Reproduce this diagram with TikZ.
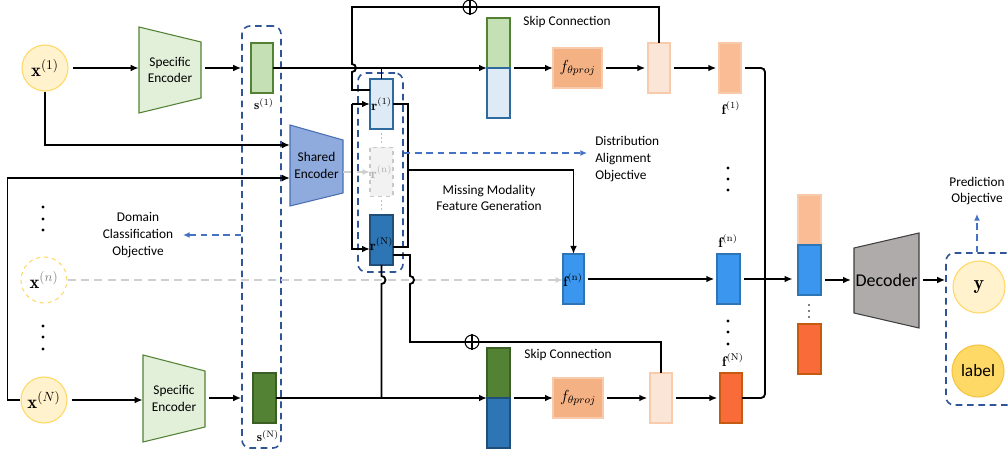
\documentclass[tikz,border=0pt]{standalone}
\usepackage{fontspec}
\newfontfamily\carl{Carlito}
\usetikzlibrary{arrows.meta,calc}
\definecolor{yfill}{HTML}{FFF2CC}
\definecolor{yline}{HTML}{FFD966}
\definecolor{gold}{HTML}{FFD966}
\definecolor{goldline}{HTML}{F4C542}
\definecolor{gfill}{HTML}{E2F0D9}
\definecolor{gline}{HTML}{548235}
\definecolor{glight}{HTML}{C5E0B4}
\definecolor{gdark}{HTML}{548235}
\definecolor{gdarkline}{HTML}{3B5E25}
\definecolor{sfill}{HTML}{8FAADC}
\definecolor{sline}{HTML}{4A6FB5}
\definecolor{blight}{HTML}{DEEBF7}
\definecolor{blightline}{HTML}{2E6A9E}
\definecolor{bdark}{HTML}{2E75B6}
\definecolor{bdarkline}{HTML}{1F4E79}
\definecolor{grayfill}{HTML}{F2F2F2}
\definecolor{grayline}{HTML}{C8C8C8}
\definecolor{proj}{HTML}{F4B183}
\definecolor{projline}{HTML}{F8CBAD}
\definecolor{faded}{HTML}{FBE5D6}
\definecolor{fadedline}{HTML}{F8CBAD}
\definecolor{fone}{HTML}{F9BC95}
\definecolor{foneline}{HTML}{F8CBAD}
\definecolor{fnc}{HTML}{3A96EE}
\definecolor{fnline}{HTML}{2E75B6}
\definecolor{fNc}{HTML}{F96C3A}
\definecolor{fNline}{HTML}{C55A11}
\definecolor{dec}{HTML}{AFABAB}
\definecolor{grp}{HTML}{2F5597}
\definecolor{obj}{HTML}{4472C4}
\definecolor{ghost}{HTML}{CFCFCF}
\tikzset{
  sz/.style args={#1 by #2}{minimum width=#1*0.75pt, minimum height=#2*0.75pt},
  blk/.style={draw, line width=0.8pt, inner sep=0pt, outer sep=0pt},
  arr/.style={line width=1.4pt, -{Latex[length=6pt,width=5pt]}},
  ln/.style={line width=1.4pt},
  grpbox/.style={draw=grp, line width=1.2pt, dash pattern=on 5pt off 3.5pt, rounded corners=6pt, inner sep=0pt},
  objarr/.style={draw=obj, line width=1pt, dash pattern=on 5pt off 3.5pt, -{Latex[length=5pt,width=4.5pt]}},
  ghostarr/.style={draw=ghost, line width=1pt, dash pattern=on 6pt off 4pt, -{Latex[length=5.5pt,width=4.5pt]}},
  txt/.style={font=\carl\fontsize{10}{12.6}\selectfont, align=center, inner sep=0pt},
  circ/.style={circle, minimum size=46*0.75pt, inner sep=0pt, line width=0.8pt},
  opl/.style={circle, draw, fill=white, line width=0.8pt, minimum size=14*0.75pt, inner sep=0pt},
  mlab/.style={inner sep=0pt, font=\fontsize{10}{12}\selectfont},
}
\begin{document}
\begin{tikzpicture}[x=0.75pt,y=-0.75pt]
\useasboundingbox (0,0) rectangle (1008,452);
\fill[white] (0,0) rectangle (1008,452);

% ---------- inputs ----------
\node[circ, draw=yline, fill=yfill] (x1) at (45,68) {\fontsize{14}{16}\selectfont$\mathbf{x}^{(1)}$};
\node[circ, draw=yline, dashed, fill=white] (xn) at (44,280) {\fontsize{14}{16}\selectfont$\mathbf{x}^{\textcolor{gray}{(n)}}$};
\node[circ, draw=yline, fill=yfill] (xN) at (44,400) {\fontsize{14}{16}\selectfont$\mathbf{x}^{(N)}$};
\foreach \y in {207,219,230,326,337,349} \fill (43,\y) circle[radius=1.6];

% ---------- specific encoders ----------
\draw[fill=gfill, draw=gline, line width=0.8pt] (139,27) -- (201,42) -- (201,98) -- (139,113) -- cycle;
\node[txt, sz=62 by 86] (se1) at (170,70) {Specific\\Encoder};
\draw[fill=gfill, draw=gline, line width=0.8pt] (143,355) -- (205,371) -- (205,427) -- (143,442) -- cycle;
\node[txt, sz=62 by 87] (seN) at (174,398.5) {Specific\\Encoder};

% ---------- shared encoder ----------
\draw[fill=sfill, draw=sline, line width=0.8pt] (290,125) -- (343,140) -- (343,193) -- (290,206) -- cycle;
\node[txt, sz=53 by 81] (sh) at (316.5,165.5) {Shared\\Encoder};
\coordinate (shin1) at (290,145);
\coordinate (shin2) at (290,178);

% ---------- s group ----------
\node[grpbox, sz=39 by 422] (sgrp) at (261.5,237) {};
\node[blk, draw=gline, fill=glight, sz=22 by 50] (s1) at (262,68) {};
\node[mlab] (s1l) at (264,104) {$\mathbf{s}^{(1)}$};
\node[blk, draw=gdarkline, fill=gdark, sz=23 by 50] (sN) at (264.5,398) {};
\node[mlab] (sNl) at (268,436) {$\mathbf{s}^{(\mathrm{N})}$};

% ---------- r group ----------
\node[grpbox, sz=45 by 199] (rgrp) at (380.5,172.5) {};
\node[blk, draw=blightline, fill=blight, sz=23 by 50] (r1) at (381.5,104) {};
\node[blk, draw=grayline, dashed, fill=grayfill, sz=23 by 49] (rn) at (381.5,172) {};
\node[blk, draw=bdarkline, fill=bdark, sz=23 by 50] (rN) at (381.5,240) {};
\node[mlab, font=\fontsize{10.5}{12}\selectfont] (r1l) at (381.5,104) {$\mathbf{r}^{(1)}$};
\node[mlab, font=\fontsize{10.5}{12}\selectfont, text=gray!60] (rnl) at (381.5,172) {$\mathbf{r}^{(\mathrm{n})}$};
\node[mlab, font=\fontsize{10.5}{12}\selectfont] (rNl) at (381.5,244) {$\mathbf{r}^{(\mathrm{N})}$};
\foreach \y in {134,138,142,201,205,209} \fill[gray] (381.5,\y) circle[radius=0.7];

% ---------- concat boxes ----------
\node[blk, draw=gline, fill=glight, sz=23 by 50] (c1a) at (498.5,43) {};
\node[blk, draw=blightline, fill=blight, sz=23 by 50] (c1b) at (498.5,93) {};
\node[blk, draw=gdarkline, fill=gdark, sz=23 by 50] (c2a) at (498.5,373) {};
\node[blk, draw=bdarkline, fill=bdark, sz=23 by 50] (c2b) at (498.5,423) {};

% ---------- projections ----------
\node[blk, draw=projline, fill=proj, sz=49 by 40] (fp1) at (577.5,68) {\fontsize{12}{14}\selectfont$f_{\theta proj}$};
\node[blk, draw=projline, fill=proj, sz=50 by 40] (fp2) at (578,398) {\fontsize{12}{14}\selectfont$f_{\theta proj}$};
\node[blk, draw=fadedline, fill=faded, sz=22 by 50] (fd1) at (659,68) {};
\node[blk, draw=fadedline, fill=faded, sz=22 by 50] (fd2) at (661,398) {};
\node[txt] (skip1) at (567,22) {Skip Connection};
\node[txt] (skip2) at (568,355) {Skip Connection};
\node[opl] (op1) at (470,7) {};
\draw[line width=0.8pt] (op1.north) -- (op1.south) (op1.west) -- (op1.east);
\node[opl] (op2) at (472,342) {};
\draw[line width=0.8pt] (op2.north) -- (op2.south) (op2.west) -- (op2.east);

% ---------- f features ----------
\node[blk, draw=fnline, fill=fnc, sz=21 by 50] (fn) at (573.5,279) {};
\node[mlab, font=\fontsize{10.5}{12}\selectfont] (fnl) at (573,280) {$\mathbf{f}^{(\mathrm{n})}$};
\node[blk, draw=foneline, fill=fone, sz=22 by 50] (f1) at (730,68) {};
\node[mlab, font=\fontsize{10.5}{12}\selectfont] (f1l) at (731,108) {$\mathbf{f}^{(1)}$};
\node[blk, draw=fnline, fill=fnc, sz=23 by 50] (fn2) at (728.5,279) {};
\node[mlab, font=\fontsize{10.5}{12}\selectfont] (fn2l) at (728,241) {$\mathbf{f}^{(\mathrm{n})}$};
\node[blk, draw=fNline, fill=fNc, sz=22 by 50] (fN) at (731,398) {};
\node[mlab, font=\fontsize{10.5}{12}\selectfont] (fNl) at (733,360) {$\mathbf{f}^{(\mathrm{N})}$};
\foreach \y in {168,179,190,321,332,344} \fill (728,\y) circle[radius=1.6];

% concatenated
\node[blk, draw=foneline, fill=fone, sz=23 by 50] (cca) at (809.5,220) {};
\node[blk, draw=fnline, fill=fnc, sz=23 by 50] (ccb) at (809.5,270) {};
\node[blk, draw=fNline, fill=fNc, sz=23 by 50] (ccc) at (809.5,349) {};
\foreach \y in {305,311,317} \fill (809,\y) circle[radius=0.8];

% ---------- decoder & outputs ----------
\draw[fill=dec, draw=black!75, line width=0.8pt] (854,248) -- (919,233) -- (919,328) -- (854,313) -- cycle;
\node[txt, font=\carl\fontsize{13.5}{15}\selectfont, sz=65 by 96] (dec) at (886.5,280) {Decoder};
\node[grpbox, sz=80 by 152] (ybox) at (986,329) {};
\node[circ, minimum size=52*0.75pt, draw=yline, fill=yfill] (yc) at (979,287) {\fontsize{15}{17}\selectfont$\mathbf{y}$};
\node[circ, minimum size=52*0.75pt, draw=goldline, fill=gold] (lab) at (978,371) {\carl\fontsize{13}{15}\selectfont label};
\node[txt] (pred) at (977,191) {Prediction\\Objective};
\coordinate (predtip) at (977,214);

% ---------- objective texts ----------
\node[txt, anchor=west, align=left] (dist) at (595,159) {Distribution\\Alignment\\Objective};
\node[txt] (dom) at (138,235) {Domain\\Classification\\Objective};
\node[txt] (miss) at (489,198) {Missing Modality\\Feature Generation};
\coordinate (distip) at (587,153);
\coordinate (domtip) at (183,235);

% ---------- helper coordinates ----------
\coordinate (bx) at (352,0);
\coordinate (bxr) at (408,0);
\coordinate (bxs) at (410,0);
\coordinate (bxf) at (765,0);
\coordinate (r1tap) at (370,90);
\coordinate (rNin) at (370,249);
\coordinate (rNo1) at (393,247);
\coordinate (rNo2) at (393,255);

% ---------- connectors ----------
\draw[ghostarr] (xn.east) -- (xn.east -| fn.west);
\draw[ghostarr] (rn.west -| sh.east) -- (rn.west);

\draw[arr, shorten <=3pt] (x1.east) -- (x1.east -| se1.west);
\draw[arr, shorten <=3pt] (xN.east) -- (xN.east -| seN.west);
\draw[arr, shorten <=3pt] (se1.east |- s1.west) -- (s1.west -| sgrp.west);
\draw[arr, shorten <=3pt] (seN.east |- sN.west) -- (sN.west -| sgrp.west);
\draw[arr] (x1.south) |- (shin1);
\draw[arr] (xN.west) -- ++(-13,0) |- (shin2);

\draw[arr] (s1.east) -- (s1.east -| c1a.west);
\draw[ln] (r1.north) -- (r1.north |- s1.east);
\draw[ln] (r1tap) -- (r1tap -| bx) -- (352,72) arc[start angle=90,end angle=-90,radius=4] -- (352,7) -- (op1.west);
\draw[ln] (op1.east) -- (659,7) -- (fd1.north);

\draw[arr] (r1.west -| bx) -- (r1.west);
\draw[arr] (r1.west -| bx) -- (rNin -| bx) -- (rNin);
\draw[ln] (r1.east) -- (r1.east -| bxr) -- (rNo1 -| bxr) -- (rNo1);
\draw[arr] (408,170) -| (fn.north);

\draw[ln] (rNo2) -- (rNo2 -| bxs) -- (410,276) arc[start angle=-90,end angle=90,radius=4] -- (410,342) -- (op2.west);
\draw[ln] (op2.east) -- (661,342) -- (fd2.north);
\draw[ln] (rN.south) -- (381.5,276) arc[start angle=-90,end angle=90,radius=4] -- (381.5,398);
\draw[arr] (sN.east) -- (sN.east -| c2b.west);

\draw[arr, shorten <=3pt] (c1a.south east) -- (c1a.south east -| fp1.west);
\draw[arr, shorten <=3pt, shorten >=2pt] (fp1.east) -- (fp1.east -| fd1.west);
\draw[arr, shorten <=3pt, shorten >=2pt] (fd1.east) -- (fd1.east -| f1.west);
\draw[arr, shorten <=3pt] (c2a.south east) -- (c2a.south east -| fp2.west);
\draw[arr, shorten <=3pt, shorten >=2pt] (fp2.east) -- (fp2.east -| fd2.west);
\draw[arr, shorten <=3pt, shorten >=2pt] (fd2.east) -- (fd2.east -| fN.west);

\draw[arr, shorten <=3pt, shorten >=2pt] (fn.east) -- (fn.east -| fn2.west);
\draw[ln, rounded corners=3pt, shorten <=3pt] (f1.east) -- (f1.east -| bxf) -- (fN.east -| bxf) -- (fN.east);
\draw[arr, shorten <=3pt, shorten >=4pt] (fn2.east) -- (fn2.east -| ccb.west);
\draw[arr, shorten <=3pt, shorten >=2pt] (ccb.east |- dec.west) -- (dec.west);
\draw[arr, shorten <=3pt] (dec.east) -- (dec.east -| ybox.west);

\draw[objarr] (predtip |- ybox.north) -- (predtip);
\draw[objarr] (rgrp.east |- distip) -- (distip);
\draw[objarr] (sgrp.west |- domtip) -- (domtip);
\end{tikzpicture}
\end{document}
